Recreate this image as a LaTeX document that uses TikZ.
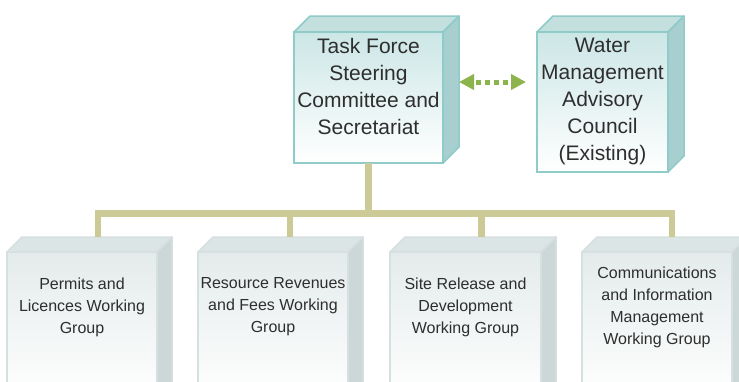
\documentclass[tikz,border=0pt]{standalone}
\usepackage{fontspec}
\setmainfont{Liberation Sans}
\usetikzlibrary{arrows.meta,calc}
\definecolor{tborder}{HTML}{8FCBC8}
\definecolor{tfront}{HTML}{CCE6E6}
\definecolor{ttop}{HTML}{C3DFDE}
\definecolor{tside}{HTML}{A8CFCF}
\definecolor{gborder}{HTML}{D6E0E0}
\definecolor{gfront}{HTML}{E4EBEB}
\definecolor{gtop}{HTML}{DCE5E5}
\definecolor{gside}{HTML}{CCD7D7}
\definecolor{conncol}{HTML}{CCCB97}
\definecolor{arrg}{HTML}{8DB34D}
\definecolor{txt}{HTML}{2E2E2E}
\newcommand\drawcube[7]{%
  \filldraw[fill=#7top,draw=#7border,line width=1.5pt,line join=round]
    (#2,#3) -- (#2+#6,#3-#6) -- (#4+#6,#3-#6) -- (#4,#3) -- cycle;
  \filldraw[fill=#7side,draw=#7border,line width=1.5pt,line join=round]
    (#4,#3) -- (#4+#6,#3-#6) -- (#4+#6,#5-#6) -- (#4,#5) -- cycle;
  \node[draw=#7border,line width=1.5pt,top color=#7front,bottom color=white,
    minimum width={#4-#2},minimum height={#5-#3},inner sep=0pt,outer sep=0pt,
    anchor=north west] (#1) at (#2,#3) {};
}
\tikzset{
  toptext/.style={anchor=north,inner sep=0pt,align=center,text=txt,
    font=\fontsize{21}{27}\selectfont},
  bottext/.style={anchor=center,inner sep=0pt,align=center,text=txt,
    font=\fontsize{16}{22}\selectfont},
  connline/.style={draw=conncol,line width=6.5pt,line cap=butt,line join=miter},
  dotarrow/.style={draw=arrg,line width=5pt,dash pattern=on 5pt off 4pt,dash phase=-3pt,
    {Triangle[length=15pt,width=15pt,fill=arrg]}-{Triangle[length=15pt,width=15pt,fill=arrg]}}
}
\begin{document}
\begin{tikzpicture}[x=1pt,y=-1pt]
\clip (0,0) rectangle (739,381);
\fill[white] (0,0) rectangle (739,381);

% top boxes
\drawcube{tf}{294}{32}{443}{163}{16}{t}
\drawcube{wm}{537}{32}{668}{172}{16}{t}
\node[toptext] (tft) at ([yshift=-6pt]tf.north) {Task Force\\Steering\\Committee and\\Secretariat};
\node[toptext] (wmt) at ([yshift=-6pt]wm.north) {Water\\Management\\Advisory\\Council\\(Existing)};

% bottom boxes
\drawcube{p1}{7}{252}{157}{400}{15}{g}
\drawcube{p2}{198}{252}{348}{400}{15}{g}
\drawcube{p3}{390}{252}{541}{400}{15}{g}
\drawcube{p4}{582}{252}{732}{400}{15}{g}
\node[bottext] (p1t) at ([yshift=-55pt]p1.north) {Permits and\\Licences Working\\Group};
\node[bottext] (p2t) at ([yshift=-55pt]p2.north) {Resource Revenues\\and Fees Working\\Group};
\node[bottext] (p3t) at ([yshift=-55pt]p3.north) {Site Release and\\Development\\Working Group};
\node[bottext] (p4t) at ([yshift=-55pt]p4.north) {Communications\\and Information\\Management\\Working Group};

% connectors
\coordinate (bar) at (0,213.5);
\coordinate (a1) at ([shift={(16,-15)}]p1.north);
\coordinate (a2) at ([shift={(17,-15)}]p2.north);
\coordinate (a3) at ([shift={(16,-15)}]p3.north);
\coordinate (a4) at ([shift={(15,-15)}]p4.north);
\draw[connline] (tf.south) -- (tf.south |- bar);
\draw[connline] (a1) -- (a1 |- bar) -- (a4 |- bar) -- (a4);
\draw[connline] (a2) -- (a2 |- bar);
\draw[connline] (a3) -- (a3 |- bar);

% dotted double arrow
\coordinate (ls) at ($(tf.east)+(16,-15.5)$);
\coordinate (le) at ($(wm.west)+(-11,-20)$);
\draw[dotarrow] (ls) -- (le);
\end{tikzpicture}
\end{document}
